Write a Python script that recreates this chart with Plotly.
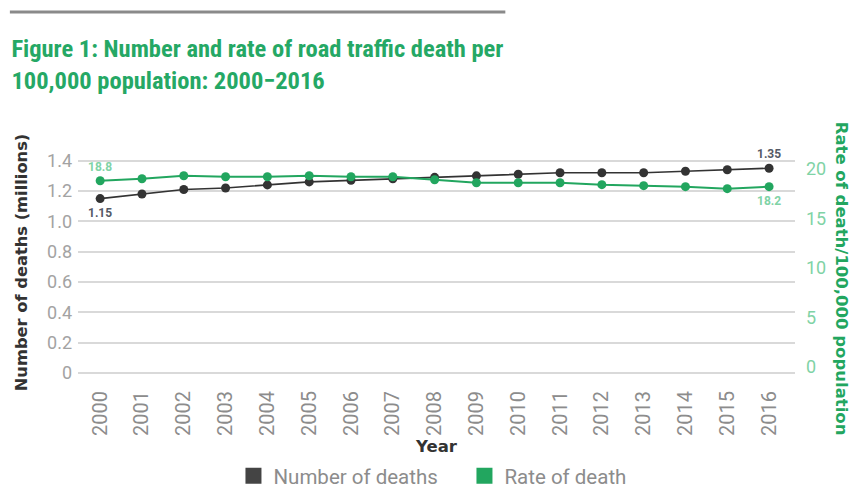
import plotly.graph_objects as go

# --- data ---
YEARS = [str(y) for y in range(2000, 2017)]
DEATHS_MILLIONS = [1.15, 1.18, 1.21, 1.22, 1.24, 1.26, 1.27, 1.28, 1.29, 1.30,
                   1.31, 1.32, 1.32, 1.32, 1.33, 1.34, 1.35]
RATE_PER_100K = [18.8, 19.0, 19.3, 19.2, 19.2, 19.3, 19.2, 19.2, 18.9, 18.6,
                 18.6, 18.6, 18.4, 18.3, 18.2, 18.0, 18.2]
LEFT_TICKS = [0, 0.2, 0.4, 0.6, 0.8, 1.0, 1.2, 1.4]
RIGHT_TICKS = [0, 5, 10, 15, 20]

DARK = "#333333"
GREEN = "#22a65f"
GREEN_LIGHT = "#7fd3a6"
GREY_TXT = "#8c8c8c"
FONT = "Roboto, 'Open Sans', sans-serif"
WIDE_BOLD = "'DejaVu Sans', Verdana, sans-serif"

fig = go.Figure()

fig.add_trace(go.Scatter(
    x=YEARS, y=DEATHS_MILLIONS, mode="lines+markers", name="Number of deaths",
    line=dict(color=DARK, width=1.6), marker=dict(color=DARK, size=9),
    showlegend=False, yaxis="y",
))
fig.add_trace(go.Scatter(
    x=YEARS, y=RATE_PER_100K, mode="lines+markers", name="Rate of death",
    line=dict(color=GREEN, width=2), marker=dict(color=GREEN, size=9),
    showlegend=False, yaxis="y2",
))

# square legend swatches like the original
for name, col in [("Number of deaths", "#444444"), ("Rate of death", GREEN)]:
    fig.add_trace(go.Scatter(
        x=[None], y=[None], mode="markers", name=name,
        marker=dict(symbol="square", size=19, color=col),
    ))

# end-point labels
last = len(YEARS) - 1
lbl = dict(showarrow=False, xref="x")
fig.add_annotation(x=0, y=RATE_PER_100K[0], yref="y2", text=f"{RATE_PER_100K[0]}", yshift=14,
                   font=dict(size=12, color=GREEN_LIGHT, family=FONT, weight="bold"), **lbl)
fig.add_annotation(x=0, y=DEATHS_MILLIONS[0], yref="y", text=f"{DEATHS_MILLIONS[0]:.2f}", yshift=-14,
                   font=dict(size=12, color="#555a66", family=FONT, weight="bold"), **lbl)
fig.add_annotation(x=last, y=DEATHS_MILLIONS[-1], yref="y", text=f"{DEATHS_MILLIONS[-1]:.2f}", yshift=14,
                   font=dict(size=12, color="#555a66", family=FONT, weight="bold"), **lbl)
fig.add_annotation(x=last, y=RATE_PER_100K[-1], yref="y2", text=f"{RATE_PER_100K[-1]}", yshift=-14,
                   font=dict(size=12, color=GREEN_LIGHT, family=FONT, weight="bold"), **lbl)

# right axis title reads top-to-bottom in the original
fig.add_annotation(x=1.081, y=0.43, xref="paper", yref="paper", textangle=90, showarrow=False,
                   text="Rate of death/100,000 population",
                   font=dict(size=16.5, color=GREEN, family=WIDE_BOLD, weight="bold"))

# grey rule above the title
fig.add_shape(type="line", xref="paper", yref="paper", x0=-0.095, x1=0.596, y0=1.613, y1=1.613,
              line=dict(color="#8a8a8a", width=3))

# the page body adds an 8px margin, so the figure is 8px smaller than the window
fig.update_layout(
    width=850, height=482,
    margin=dict(l=70, r=63, t=142, b=115, autoexpand=False),
    paper_bgcolor="white", plot_bgcolor="white",
    font=dict(family=FONT, color=GREY_TXT),
    title=dict(
        text="Figure 1: Number and rate of road traffic death per<br>100,000 population: 2000\u22122016",
        x=0.004, xanchor="left", y=0.898, yanchor="top",
        font=dict(family="'Liberation Sans Narrow', 'Roboto Condensed', Roboto, sans-serif",
                  size=24.5, color="#25a865", weight="bold"),
    ),
    xaxis=dict(
        type="category", range=[-0.53, 16.62], tickangle=-90, automargin=False,
        tickfont=dict(size=20, color=GREY_TXT), showgrid=False, showline=False,
        ticks="", ticklabelstandoff=11,
        title=dict(text="Year", font=dict(size=16.5, color=DARK, family=WIDE_BOLD, weight="bold")),
    ),
    yaxis=dict(
        range=[-0.012, 1.47], tickvals=LEFT_TICKS, ticktext=[f"{v:.1f}" if v else "0" for v in LEFT_TICKS],
        tickfont=dict(size=18, color="#a3a3a3"), showgrid=True, gridcolor="#d9d9d9", gridwidth=1.5,
        zeroline=False, ticks="", automargin=False, ticklabelstandoff=5,
        title=dict(text="Number of deaths (millions)",
                   font=dict(size=16.3, color=DARK, family=WIDE_BOLD, weight="bold")),
    ),
    yaxis2=dict(
        overlaying="y", side="right", range=[-0.8, 21.9], tickvals=RIGHT_TICKS, automargin=False,
        tickfont=dict(size=18, color=GREEN_LIGHT), showgrid=False, zeroline=False, ticks="",
        ticklabelstandoff=10,
    ),
    legend=dict(orientation="h", x=0.539, xanchor="center", yref="container", y=0.029, yanchor="middle",
                font=dict(size=20.5, color=GREY_TXT), tracegroupgap=0, entrywidth=186),
)

fig.write_html("out.html")
